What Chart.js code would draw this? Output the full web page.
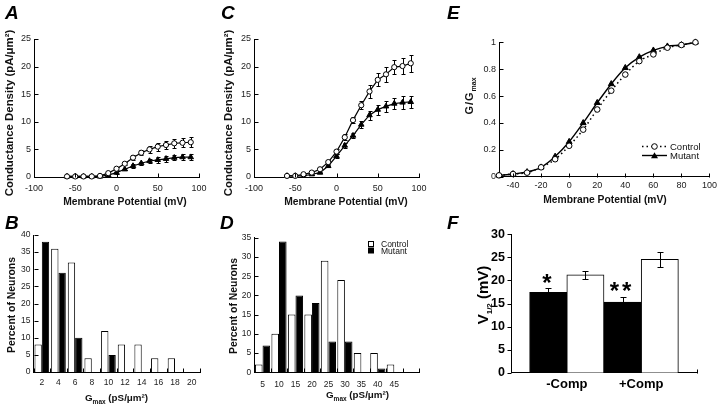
<!DOCTYPE html>
<html><head><meta charset="utf-8">
<script src="https://cdn.jsdelivr.net/npm/chart.js@4.4.1/dist/chart.umd.min.js"></script>
<style>
html,body{margin:0;padding:0;background:#fff;}
#wrap{position:relative;width:720px;height:408px;overflow:hidden;background:#fff;}
#wrap canvas{position:absolute;left:0;top:0;}
</style></head><body><div id="wrap">
<canvas id="cA" width="720" height="408"></canvas>
<canvas id="cB" width="720" height="408"></canvas>
<canvas id="cC" width="720" height="408"></canvas>
<canvas id="cD" width="720" height="408"></canvas>
<canvas id="cE" width="720" height="408"></canvas>
<canvas id="cF" width="720" height="408"></canvas>
</div>
<script>
// ---------- DATA ----------
// Panels A and C: conductance density vs membrane potential
const voltsAC = [-60,-50,-40,-30,-20,-10,0,10,20,30,40,50,60,70,80,90];
const aControl    = [0.1,0.1,0.1,0.1,0.2,0.7,1.5,2.4,3.5,4.4,5.0,5.5,5.8,6.1,6.2,6.3];
const aControlErr = [0,0,0,0,0.1,0.2,0.3,0.3,0.4,0.5,0.6,0.7,0.8,0.8,0.8,0.9];
const aMutant     = [0.1,0.1,0.1,0.1,0.1,0.35,0.8,1.4,2.0,2.5,2.9,3.1,3.3,3.5,3.6,3.6];
const aMutantErr  = [0,0,0,0,0.1,0.1,0.2,0.2,0.3,0.3,0.4,0.5,0.5,0.5,0.5,0.5];

const cControl    = [0.2,0.2,0.5,0.8,1.4,2.7,4.6,7.2,10.3,13.0,15.5,17.6,18.6,19.9,20.1,20.6];
const cControlErr = [0,0,0.1,0.1,0.2,0.3,0.4,0.5,0.6,0.7,1.1,1.2,1.3,1.3,1.5,1.5];
const cMutant     = [0.2,0.2,0.2,0.5,0.8,2.0,3.8,5.7,7.5,9.5,11.2,12.2,12.8,13.3,13.5,13.6];
const cMutantErr  = [0,0,0,0.1,0.1,0.2,0.3,0.4,0.5,0.6,0.8,0.9,1.0,1.0,1.1,1.1];

// Panel B: Gmax histogram
const bBins    = ['2','4','6','8','10','12','14','16','18','20'];
const bControl = [8,36,32,4,12,8,8,4,4,0];
const bMutant  = [38,29,10,0,5,0,0,0,0,0];

// Panel D: Gmax histogram
const dBins    = ['5','10','15','20','25','30','35','40','45',''];
const dControl = [2,10,15,15,29,24,5,5,2];
const dMutant  = [7,34,20,18,8,8,0,1,0];

// Panel E: normalized conductance
const voltsE   = [-50,-40,-30,-20,-10,0,10,20,30,40,50,60,70,80,90];
const eControl = [0.01,0.02,0.03,0.07,0.13,0.23,0.35,0.50,0.64,0.76,0.86,0.91,0.96,0.98,1.0];
const eMutant  = [0.01,0.02,0.035,0.07,0.15,0.26,0.40,0.55,0.69,0.81,0.89,0.94,0.97,0.98,1.0];
const eXTicks  = [-40,-20,0,20,40,60,80,100];

// Panel F: V1/2
const fCats       = ['-Comp','+Comp'];
const fMutant     = [17.4,15.3];
const fMutantErr  = [1.0,1.2];
const fControl    = [21.2,24.6];
const fControlErr = [0.85,1.6];

// ---------- HELPERS ----------
const FF = "'Liberation Sans', Arial, Helvetica, sans-serif";
Chart.defaults.font.family = FF;
const pts = (xs, ys) => xs.map((x, i) => ({x, y: ys[i]}));
const PANEL = {};   // per-canvas decoration config (kept out of Chart.js option proxies)

function drawErr(chart, behind) {
  const ctx = chart.ctx;
  chart.data.datasets.forEach((ds, di) => {
    if (!ds.errors || (!!ds.errBehind) !== behind) return;
    const meta = chart.getDatasetMeta(di);
    const ys = chart.scales[meta.yAxisID];
    ctx.save(); ctx.strokeStyle = '#000'; ctx.lineWidth = 1;
    meta.data.forEach((el, i) => {
      const e = ds.errors[i]; if (!e) return;
      const v = meta.controller.getParsed(i).y;
      const x = Math.round(el.x) + 0.5;
      const y1 = Math.round(ys.getPixelForValue(v + e)) + 0.5;
      const y2 = Math.round(ys.getPixelForValue(v - e)) + 0.5;
      const c = ds.errCap || 2;
      ctx.beginPath();
      ctx.moveTo(x, y1); ctx.lineTo(x, y2);
      ctx.moveTo(x - c, y1); ctx.lineTo(x + c, y1);
      ctx.moveTo(x - c, y2); ctx.lineTo(x + c, y2);
      ctx.stroke();
    });
    ctx.restore();
  });
}

function drawTicks(chart, marks) {
  const ctx = chart.ctx, ca = chart.chartArea;
  ctx.save(); ctx.strokeStyle = '#000'; ctx.lineWidth = 1;
  marks.forEach(m => {
    const s = chart.scales[m.axis];
    let px = [];
    if (m.bounds) {
      const n = s.ticks.length, w = (s.right - s.left) / n;
      for (let i = 0; i <= n; i++) px.push(s.left + i * w);
    } else if (Array.isArray(m.at)) {
      px = m.at.map(v => s.getPixelForValue(v));
    } else {
      px = s.ticks.map((t, i) => s.getPixelForTick(i));
    }
    const len = m.len || 4, dir = m.dir || 1;
    px.forEach(p => {
      const q = Math.round(p) + 0.5;
      ctx.beginPath();
      if (s.isHorizontal()) {
        const y = Math.round(ca.bottom) + 0.5;
        ctx.moveTo(q, y); ctx.lineTo(q, y - dir * len);
      } else {
        const x = Math.round(ca.left) + 0.5;
        ctx.moveTo(x, q); ctx.lineTo(x + dir * len, q);
      }
      ctx.stroke();
    });
  });
  ctx.restore();
}

function drawRich(ctx, it) {
  ctx.save();
  ctx.fillStyle = it.color || '#111';
  ctx.textBaseline = 'alphabetic';
  ctx.textAlign = 'left';
  const widths = [];
  let w = 0;
  it.parts.forEach(p => {
    ctx.font = p.f;
    if ('letterSpacing' in ctx) ctx.letterSpacing = (p.ls || 0) + 'px';
    const pw = ctx.measureText(p.t).width; widths.push(pw); w += pw;
  });
  ctx.translate(it.x, it.y);
  if (it.rot) ctx.rotate(-Math.PI / 2);
  let x = it.align === 'left' ? 0 : -w / 2;
  it.parts.forEach((p, i) => {
    ctx.font = p.f;
    if ('letterSpacing' in ctx) ctx.letterSpacing = (p.ls || 0) + 'px';
    ctx.fillText(p.t, x, p.dy || 0); x += widths[i];
  });
  ctx.restore();
}

const deco = {
  id: 'deco',
  beforeDatasetsDraw(chart) { drawErr(chart, true); },
  afterDatasetsDraw(chart) { drawErr(chart, false); },
  afterDraw(chart) {
    const cfg = PANEL[chart.canvas.id]; if (!cfg) return;
    if (cfg.marks) drawTicks(chart, cfg.marks);
    (cfg.items || []).forEach(it => drawRich(chart.ctx, it));
    if (cfg.extra) cfg.extra(chart.ctx, chart);
  }
};
Chart.register(deco);

const B = s => 'bold ' + s + 'px ' + FF;
const R = s => s + 'px ' + FF;
const BI = s => 'italic bold ' + s + 'px ' + FF;

function linAxis(min, max, step, o) {
  o = o || {};
  const ax = {
    type: 'linear', min, max,
    grid: {display: false, drawTicks: false},
    border: {display: true, color: '#000', width: 1},
    ticks: {stepSize: step, color: o.color || '#222', font: {size: o.size || 9, weight: o.weight || 'normal'},
            padding: o.pad == null ? 4 : o.pad, autoSkip: false, maxRotation: 0, minRotation: 0},
    afterFit: o.isX ? (s => { s.height = 20; }) : (s => { s.width = 30; })
  };
  if (o.cb) ax.ticks.callback = o.cb;
  if (o.abt) ax.afterBuildTicks = o.abt;
  return ax;
}
function catAxis(o) {
  o = o || {};
  return {
    type: 'category', offset: true,
    grid: {display: false, drawTicks: false, offset: true},
    border: {display: true, color: '#000', width: 1},
    ticks: {color: '#222', font: {size: o.size || 8.5}, padding: o.pad || 6, autoSkip: false, maxRotation: 0, minRotation: 0},
    afterFit: s => { s.height = 20; }
  };
}
function baseOpts(area, scales) {
  return {
    responsive: false, animation: false, devicePixelRatio: 1, events: [],
    layout: {autoPadding: false, padding: {left: area.l - 30, top: area.t, right: 720 - area.r, bottom: 408 - area.b - 20}},
    scales,
    plugins: {legend: {display: false}, tooltip: {enabled: false}}
  };
}
function ctrlLine(data, errs) {
  return {label: 'Control', data, errors: errs, errBehind: true, errCap: 2,
    borderColor: '#000', borderWidth: 1.2, tension: 0, fill: false, clip: false,
    pointStyle: 'circle', pointRadius: 2.6, pointBackgroundColor: '#fff', pointBorderColor: '#000', pointBorderWidth: 1};
}
function mutLine(data, errs) {
  return {label: 'Mutant', data, errors: errs, errBehind: true, errCap: 2,
    borderColor: '#000', borderWidth: 1.2, tension: 0, fill: false, clip: false,
    pointStyle: 'triangle', pointRadius: 3.2, pointBackgroundColor: '#000', pointBorderColor: '#000', pointBorderWidth: 1};
}

// ---------- PANEL A ----------
PANEL.cA = {
  marks: [{axis: 'x'}, {axis: 'y'}],
  items: [
    {x: 5, y: 19, align: 'left', color: '#000', parts: [{t: 'A', f: BI(19)}]},
    {x: 13, y: 113, rot: true, parts: [{t: 'Conductance Density (pA/μm²)', f: B(11.4)}]},
    {x: 125, y: 205, parts: [{t: 'Membrane Potential (mV)', f: B(10.3)}]}
  ]
};
new Chart(document.getElementById('cA'), {
  type: 'line',
  data: {datasets: [ctrlLine(pts(voltsAC, aControl), aControlErr), mutLine(pts(voltsAC, aMutant), aMutantErr)]},
  options: baseOpts({l: 34, r: 199, t: 39, b: 177},
    {x: linAxis(-100, 100, 50, {isX: true, pad: 6}), y: linAxis(0, 25, 5, {pad: 3})})
});

// ---------- PANEL C ----------
PANEL.cC = {
  marks: [{axis: 'x'}, {axis: 'y'}],
  items: [
    {x: 221, y: 19, align: 'left', color: '#000', parts: [{t: 'C', f: BI(19)}]},
    {x: 232, y: 113, rot: true, parts: [{t: 'Conductance Density (pA/μm²)', f: B(11.4)}]},
    {x: 346, y: 205, parts: [{t: 'Membrane Potential (mV)', f: B(10.3)}]}
  ]
};
new Chart(document.getElementById('cC'), {
  type: 'line',
  data: {datasets: [ctrlLine(pts(voltsAC, cControl), cControlErr), mutLine(pts(voltsAC, cMutant), cMutantErr)]},
  options: baseOpts({l: 254, r: 419, t: 39, b: 177},
    {x: linAxis(-100, 100, 50, {isX: true, pad: 6}), y: linAxis(0, 25, 5, {pad: 3})})
});

// ---------- PANEL E ----------
PANEL.cE = {
  marks: [{axis: 'x'}, {axis: 'y'}],
  items: [
    {x: 447, y: 19, align: 'left', color: '#000', parts: [{t: 'E', f: BI(19)}]},
    {x: 473, y: 96, rot: true, parts: [{t: 'G/G', f: B(11), ls: 1}, {t: 'max', f: B(7), dy: 3}]},
    {x: 605, y: 203, parts: [{t: 'Membrane Potential (mV)', f: B(10.3)}]},
    {x: 670, y: 150, align: 'left', parts: [{t: 'Control', f: R(9.5)}]},
    {x: 670, y: 159, align: 'left', parts: [{t: 'Mutant', f: R(9.5)}]}
  ],
  extra: (ctx) => {
    ctx.save(); ctx.strokeStyle = '#000';
    ctx.lineWidth = 1.5; ctx.setLineDash([1.5, 3]);
    ctx.beginPath(); ctx.moveTo(642, 146.5); ctx.lineTo(667, 146.5); ctx.stroke();
    ctx.setLineDash([]); ctx.lineWidth = 1.4;
    ctx.beginPath(); ctx.moveTo(642, 155.5); ctx.lineTo(667, 155.5); ctx.stroke();
    ctx.lineWidth = 1; ctx.fillStyle = '#fff';
    ctx.beginPath(); ctx.arc(654.5, 146.5, 2.8, 0, Math.PI * 2); ctx.fill(); ctx.stroke();
    ctx.fillStyle = '#000';
    ctx.beginPath(); ctx.moveTo(654.5, 152.3); ctx.lineTo(658, 158.3); ctx.lineTo(651, 158.3); ctx.closePath(); ctx.fill();
    ctx.restore();
  }
};
new Chart(document.getElementById('cE'), {
  type: 'line',
  data: {datasets: [
    {label: 'Control', data: pts(voltsE, eControl), borderColor: '#000', borderWidth: 1.5, borderDash: [1.5, 3],
     cubicInterpolationMode: 'monotone', fill: false, clip: false,
     pointStyle: 'circle', pointRadius: 2.8, pointBackgroundColor: '#fff', pointBorderColor: '#000', pointBorderWidth: 1},
    {label: 'Mutant', data: pts(voltsE, eMutant), borderColor: '#000', borderWidth: 1.4,
     cubicInterpolationMode: 'monotone', fill: false, clip: false,
     pointStyle: 'triangle', pointRadius: 3.4, pointBackgroundColor: '#000', pointBorderColor: '#000', pointBorderWidth: 1}
  ]},
  options: baseOpts({l: 499, r: 711, t: 42.3, b: 176.7},
    {x: linAxis(-50, 100, 20, {isX: true, pad: 3, abt: s => { s.ticks = eXTicks.map(v => ({value: v})); }}),
     y: linAxis(0, 1, 0.2, {pad: 3, cb: v => String(Math.round(v * 10) / 10)})})
});

// ---------- PANEL B ----------
PANEL.cB = {
  marks: [{axis: 'x', bounds: true}, {axis: 'y'}],
  items: [
    {x: 5, y: 229, align: 'left', color: '#000', parts: [{t: 'B', f: BI(19)}]},
    {x: 14.5, y: 305, rot: true, parts: [{t: 'Percent of Neurons', f: B(10.4)}]},
    {x: 85, y: 401, align: 'left', parts: [{t: 'G', f: B(9.8)}, {t: 'max', f: B(6.5), dy: 3}, {t: ' (pS/μm²)', f: B(9.8)}]}
  ]
};
new Chart(document.getElementById('cB'), {
  type: 'bar',
  data: {labels: bBins, datasets: [
    {label: 'Control', data: bControl, backgroundColor: '#fff', borderColor: '#000', borderWidth: 1, categoryPercentage: 0.88, barPercentage: 1},
    {label: 'Mutant', data: bMutant, backgroundColor: '#000', borderColor: '#000', borderWidth: 1, categoryPercentage: 0.88, barPercentage: 1}
  ]},
  options: baseOpts({l: 33.5, r: 200, t: 235, b: 372},
    {x: catAxis({size: 8.5, pad: 6}), y: linAxis(0, 40, 5, {pad: 3, size: 8.5})})
});

// ---------- PANEL D ----------
PANEL.cD = {
  marks: [{axis: 'x', bounds: true}, {axis: 'y'}],
  items: [
    {x: 220, y: 229, align: 'left', color: '#000', parts: [{t: 'D', f: BI(19)}]},
    {x: 236.5, y: 306, rot: true, parts: [{t: 'Percent of Neurons', f: B(10.4)}]},
    {x: 326, y: 398, align: 'left', parts: [{t: 'G', f: B(9.8)}, {t: 'max', f: B(6.5), dy: 3}, {t: ' (pS/μm²)', f: B(9.8)}]},
    {x: 381, y: 247, align: 'left', parts: [{t: 'Control', f: R(8.5)}]},
    {x: 381, y: 253.5, align: 'left', parts: [{t: 'Mutant', f: R(8.5)}]}
  ],
  extra: (ctx) => {
    ctx.save(); ctx.lineWidth = 1; ctx.strokeStyle = '#000';
    ctx.fillStyle = '#fff'; ctx.fillRect(368.5, 241.5, 5, 5); ctx.strokeRect(368.5, 241.5, 5, 5);
    ctx.fillStyle = '#000'; ctx.fillRect(368, 247.5, 6, 6);
    ctx.restore();
  }
};
new Chart(document.getElementById('cD'), {
  type: 'bar',
  data: {labels: dBins, datasets: [
    {label: 'Control', data: dControl, backgroundColor: '#fff', borderColor: '#000', borderWidth: 1, categoryPercentage: 0.92, barPercentage: 1},
    {label: 'Mutant', data: dMutant, backgroundColor: '#000', borderColor: '#000', borderWidth: 1, categoryPercentage: 0.92, barPercentage: 1}
  ]},
  options: baseOpts({l: 254.3, r: 419, t: 237.7, b: 372.3},
    {x: catAxis({size: 8.5, pad: 7}), y: linAxis(0, 35, 5, {pad: 3, size: 8.5})})
});

// ---------- PANEL F ----------
const fPos = fCats.map((c, i) => 1.5 + 2 * i);
PANEL.cF = {
  marks: [{axis: 'y', dir: -1}, {axis: 'x', at: [5]}],
  items: [
    {x: 447, y: 229, align: 'left', color: '#000', parts: [{t: 'F', f: BI(19)}]},
    {x: 488, y: 295, rot: true, color: '#000', parts: [{t: 'V', f: B(15)}, {t: '1/2', f: B(8), dy: 3.5}, {t: ' (mV)', f: B(15)}]},
    {x: 547, y: 290.5, color: '#000', parts: [{t: '*', f: B(24)}]},
    {x: 622, y: 299, color: '#000', parts: [{t: '**', f: B(24), ls: 3}]}
  ]
};
new Chart(document.getElementById('cF'), {
  type: 'bar',
  data: {datasets: [
    {label: 'Mutant', data: pts(fPos, fMutant), errors: fMutantErr, errCap: 3, backgroundColor: '#000', borderColor: '#000', borderWidth: 1, categoryPercentage: 1, barPercentage: 1},
    {label: 'Control', data: pts(fPos, fControl), errors: fControlErr, errCap: 3, backgroundColor: '#fff', borderColor: '#000', borderWidth: 1, categoryPercentage: 1, barPercentage: 1}
  ]},
  options: baseOpts({l: 511, r: 697, t: 234.3, b: 372.7},
    {x: Object.assign(linAxis(0, 5, 1, {isX: true, pad: 4, size: 13, weight: 'bold', color: '#000',
          abt: s => { s.ticks = fPos.map(v => ({value: v})); }, cb: (v, i) => fCats[i]}), {offset: false}),
     y: linAxis(0, 30, 5, {pad: 6, size: 12.5, weight: 'bold', color: '#000'})})
});
</script>
</body></html>
